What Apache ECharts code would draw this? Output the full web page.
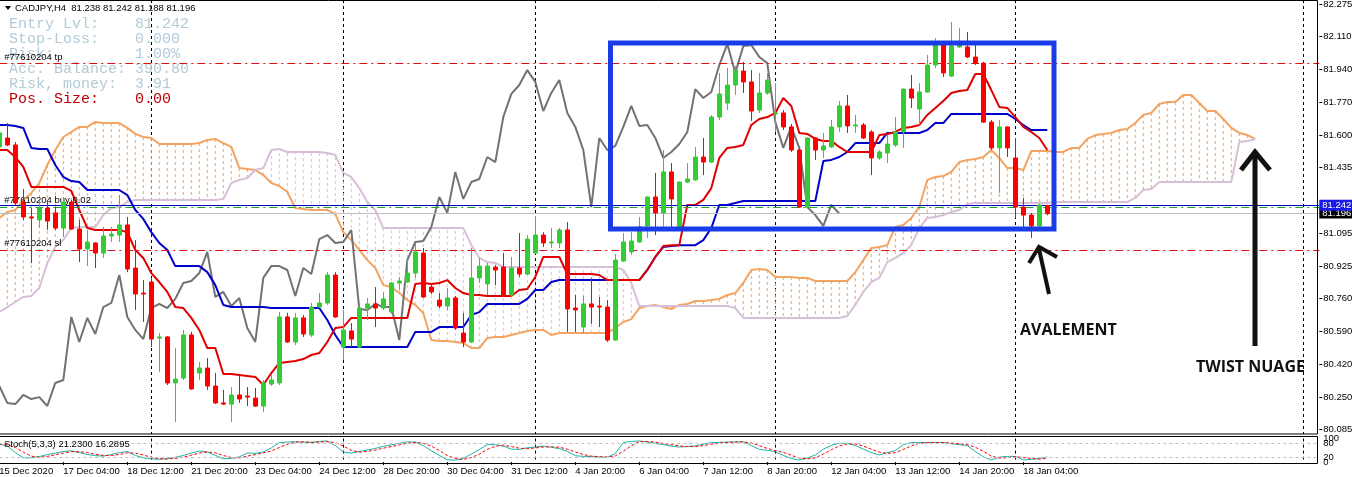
<!DOCTYPE html>
<html><head><meta charset="utf-8">
<script src="https://cdn.jsdelivr.net/npm/echarts@6/dist/echarts.min.js"></script>
<style>html,body{margin:0;padding:0;background:#fff}#c{width:1352px;height:477px}</style>
</head><body><div id="c"></div>
<script>
const tickLabels = ["15 Dec 2020","17 Dec 04:00","18 Dec 12:00","21 Dec 20:00","23 Dec 04:00","24 Dec 12:00","28 Dec 20:00","30 Dec 04:00","31 Dec 12:00","4 Jan 20:00","6 Jan 04:00","7 Jan 12:00","8 Jan 20:00","12 Jan 04:00","13 Jan 12:00","14 Jan 20:00","18 Jan 04:00"];
const weekStarts = [19,43,67,97,127,163];
// [open, close, low, high]
const candles = [
[81.540,81.612,81.524,81.638],[81.586,81.550,81.545,81.663],[81.550,81.251,81.241,81.565],[81.256,81.179,81.164,81.323],
[81.179,81.174,80.942,81.225],[81.164,81.225,81.122,81.267],[81.225,81.158,81.112,81.267],[81.200,81.122,81.112,81.230],
[81.122,81.256,81.076,81.282],[81.256,81.117,81.112,81.267],[81.117,81.014,80.947,81.164],[81.014,81.050,80.926,81.112],
[81.045,80.993,80.916,81.050],[80.993,81.081,80.968,81.128],[81.081,81.091,81.050,81.128],[81.086,81.138,81.050,81.292],
[81.138,80.911,80.895,81.179],[80.916,80.782,80.700,81.060],[80.787,80.782,80.638,80.854],[80.844,80.550,80.509,80.865],
[80.555,80.561,80.380,80.581],[80.561,80.324,80.313,80.566],[80.324,80.344,80.123,80.504],[80.349,80.571,80.339,80.597],
[80.571,80.293,80.288,80.587],[80.375,80.401,80.339,80.432],[80.401,80.308,80.288,80.452],[80.308,80.221,80.215,80.375],
[80.221,80.215,80.210,80.288],[80.215,80.262,80.123,80.303],[80.262,80.241,80.221,80.365],[80.257,80.251,80.205,80.303],
[80.246,80.205,80.200,80.298],[80.205,80.324,80.174,80.339],[80.318,80.339,80.308,80.365],[80.324,80.664,80.313,80.690],
[80.664,80.535,80.530,80.685],[80.535,80.659,80.519,80.685],[80.659,80.576,80.561,80.674],[80.571,80.715,80.561,80.736],
[80.715,80.736,80.710,80.787],[80.736,80.880,80.726,80.895],[80.880,80.664,80.659,80.895],[80.509,80.597,80.442,80.700],
[80.592,80.550,80.509,80.633],[80.509,80.710,80.504,80.720],[80.710,80.731,80.648,80.762],[80.731,80.710,80.612,80.818],
[80.710,80.757,80.700,80.793],[80.689,80.839,80.679,80.844],[80.839,80.849,80.803,80.870],[80.844,80.890,80.839,80.957],
[80.890,80.999,80.865,81.045],[80.993,80.767,80.762,81.019],[80.818,80.793,80.782,80.834],[80.751,80.720,80.710,80.787],
[80.720,80.762,80.700,80.813],[80.762,80.607,80.597,80.772],[80.581,80.535,80.509,80.685],[80.535,80.865,80.530,81.019],
[80.865,80.926,80.839,80.968],[80.834,80.926,80.777,80.942],[80.921,80.906,80.828,80.931],[80.921,80.772,80.767,80.993],
[80.777,80.916,80.767,80.973],[80.916,80.885,80.870,81.096],[80.885,81.065,80.880,81.086],[80.993,81.086,80.988,81.184],
[81.086,81.045,81.024,81.101],[81.045,81.050,81.019,81.122],[81.045,81.112,81.019,81.122],[81.112,80.705,80.587,81.153],
[80.710,80.700,80.587,80.777],[80.612,80.731,80.581,80.772],[80.731,80.715,80.628,80.865],[80.720,80.715,80.612,80.767],
[80.715,80.545,80.535,80.751],[80.545,80.957,80.540,80.988],[80.952,81.050,80.947,81.096],[80.999,81.055,80.983,81.101],
[81.050,81.128,81.045,81.179],[81.133,81.282,81.071,81.285],[81.282,81.200,81.086,81.406],[81.200,81.411,81.128,81.524],
[81.411,81.272,81.128,81.457],[81.128,81.359,81.125,81.362],[81.359,81.375,81.354,81.457],[81.370,81.488,81.365,81.540],
[81.488,81.462,81.395,81.586],[81.462,81.694,81.457,81.704],[81.694,81.813,81.679,81.921],[81.766,81.859,81.730,81.947],
[81.859,81.936,81.808,81.957],[81.931,81.875,81.818,81.978],[81.875,81.725,81.674,81.936],[81.730,81.818,81.715,81.921],
[81.818,81.885,81.808,81.921],[81.710,81.715,81.617,81.869],[81.715,81.643,81.627,81.730],[81.643,81.524,81.514,81.658],
[81.524,81.230,81.225,81.535],[81.230,81.586,81.225,81.591],[81.586,81.524,81.473,81.591],[81.524,81.545,81.483,81.612],
[81.540,81.643,81.535,81.679],[81.643,81.751,81.617,81.777],[81.751,81.648,81.612,81.808],[81.648,81.653,81.612,81.705],
[81.653,81.586,81.581,81.663],[81.617,81.483,81.395,81.627],[81.483,81.514,81.473,81.524],[81.509,81.555,81.457,81.601],
[81.550,81.617,81.540,81.694],[81.617,81.838,81.535,81.841],[81.838,81.792,81.741,81.911],[81.735,81.823,81.653,81.869],
[81.823,81.962,81.818,82.014],[81.962,82.070,81.947,82.101],[82.070,81.921,81.900,82.076],[81.905,82.060,81.900,82.184],
[82.055,82.065,82.050,82.153],[82.055,82.003,81.998,82.132],[82.003,81.972,81.962,82.065],[81.972,81.668,81.663,81.978],
[81.668,81.535,81.524,81.679],[81.535,81.643,81.303,81.679],[81.643,81.535,81.488,81.646],[81.483,81.230,81.174,81.586],
[81.230,81.189,81.128,81.277],[81.189,81.133,81.071,81.200],[81.133,81.241,81.128,81.246],[81.238,81.196,81.188,81.242]
];
const tenkan = [
81.524,81.524,81.488,81.437,81.334,81.334,81.334,81.334,81.334,81.313,
81.215,81.122,81.112,81.112,81.112,81.112,81.101,81.009,80.968,80.890,
80.844,80.793,80.715,80.710,80.659,80.597,80.504,80.504,80.370,80.370,
80.365,80.360,80.355,80.313,80.375,80.427,80.432,80.437,80.447,80.468,
80.478,80.535,80.607,80.612,80.659,80.659,80.659,80.659,80.659,80.659,
80.659,80.659,80.834,80.839,80.834,80.839,80.854,80.813,80.787,80.777,
80.777,80.772,80.772,80.772,80.772,80.803,80.808,80.870,80.973,80.973,
80.973,80.885,80.885,80.885,80.885,80.880,80.854,80.854,80.854,80.854,
80.854,80.906,80.973,81.029,81.034,81.034,81.241,81.241,81.267,81.328,
81.483,81.535,81.540,81.550,81.653,81.684,81.694,81.715,81.792,81.751,
81.612,81.607,81.581,81.571,81.571,81.540,81.514,81.514,81.514,81.514,
81.601,81.607,81.617,81.638,81.643,81.653,81.705,81.741,81.777,81.818,
81.828,81.833,81.916,81.916,81.833,81.746,81.741,81.694,81.643,81.617,
81.586,81.524];
const kijun = [
81.653,81.653,81.648,81.638,81.535,81.529,81.529,81.447,81.385,81.364,
81.359,81.318,81.318,81.318,81.318,81.318,81.292,81.215,81.169,81.101,
81.045,81.009,80.926,80.926,80.926,80.926,80.895,80.828,80.726,80.715,
80.715,80.715,80.715,80.715,80.710,80.710,80.710,80.710,80.710,80.710,
80.710,80.648,80.571,80.509,80.509,80.509,80.509,80.509,80.509,80.509,
80.509,80.509,80.587,80.587,80.587,80.612,80.612,80.612,80.612,80.674,
80.689,80.731,80.731,80.731,80.731,80.731,80.757,80.803,80.803,80.844,
80.854,80.854,80.854,80.854,80.854,80.854,80.854,80.854,80.854,80.854,
80.854,80.906,80.973,81.024,81.029,81.034,81.034,81.034,81.060,81.122,
81.241,81.241,81.251,81.261,81.261,81.261,81.261,81.261,81.261,81.261,
81.261,81.261,81.261,81.467,81.473,81.488,81.514,81.560,81.560,81.560,
81.560,81.612,81.612,81.612,81.612,81.612,81.627,81.663,81.663,81.710,
81.710,81.710,81.710,81.710,81.710,81.710,81.710,81.684,81.653,81.627,
81.627,81.627];
const senkouA = [
81.174,81.205,81.215,81.267,81.303,81.354,81.447,81.524,81.591,81.617,
81.643,81.643,81.669,81.663,81.663,81.663,81.638,81.607,81.591,81.586,
81.555,81.555,81.555,81.555,81.555,81.560,81.576,81.581,81.560,81.540,
81.431,81.426,81.421,81.395,81.354,81.339,81.308,81.225,81.220,81.215,
81.215,81.215,81.194,81.101,81.060,81.009,80.957,80.916,80.828,80.818,
80.787,80.751,80.726,80.684,80.545,80.540,80.540,80.535,80.530,80.504,
80.504,80.555,80.561,80.561,80.571,80.581,80.592,80.597,80.597,80.571,
80.581,80.581,80.581,80.581,80.581,80.581,80.581,80.607,80.638,80.653,
80.710,80.720,80.726,80.715,80.705,80.726,80.731,80.746,80.746,80.751,
80.757,80.777,80.787,80.839,80.906,80.911,80.906,80.870,80.870,80.870,
80.865,80.865,80.849,80.849,80.849,80.849,80.849,80.895,80.957,81.019,
81.024,81.034,81.128,81.138,81.174,81.230,81.370,81.385,81.390,81.411,
81.462,81.473,81.478,81.488,81.524,81.483,81.431,81.431,81.421,81.519,
81.519,81.519,81.514,81.514,81.535,81.535,81.581,81.601,81.607,81.612,
81.627,81.632,81.663,81.705,81.715,81.761,81.771,81.771,81.808,81.808,
81.766,81.725,81.725,81.684,81.638,81.612,81.601,81.581];
const senkouB = [
80.689,80.715,80.741,80.767,80.772,80.813,80.942,81.024,81.060,81.122,
81.128,81.128,81.128,81.189,81.225,81.230,81.256,81.267,81.267,81.267,
81.267,81.267,81.267,81.267,81.267,81.267,81.267,81.267,81.272,81.354,
81.370,81.380,81.421,81.431,81.524,81.529,81.514,81.514,81.514,81.514,
81.514,81.509,81.498,81.406,81.385,81.328,81.256,81.215,81.122,81.122,
81.122,81.122,81.122,81.122,81.122,81.122,81.122,81.122,81.122,81.035,
80.968,80.947,80.942,80.921,80.921,80.921,80.921,80.921,80.921,80.921,
80.921,80.921,80.921,80.921,80.921,80.921,80.921,80.921,80.906,80.839,
80.720,80.720,80.720,80.720,80.720,80.720,80.720,80.720,80.720,80.720,
80.720,80.720,80.710,80.659,80.659,80.659,80.659,80.659,80.659,80.659,
80.659,80.659,80.659,80.659,80.659,80.659,80.669,80.726,80.793,80.844,
80.865,80.947,80.968,80.993,81.035,81.122,81.174,81.179,81.189,81.205,
81.215,81.246,81.251,81.251,81.251,81.251,81.251,81.251,81.251,81.251,
81.251,81.251,81.256,81.256,81.256,81.256,81.256,81.256,81.256,81.256,
81.256,81.256,81.277,81.318,81.323,81.359,81.359,81.359,81.359,81.359,
81.359,81.359,81.359,81.359,81.359,81.565,81.570,81.581];
const stochMain = [
76,69,40,18,18,23,32,38,45,48, 40,32,27,25,32,40,45,28,18,13,
12,14,20,28,38,47,43,28,14,15, 22,38,37,43,60,83,85,87,85,83,
88,90,70,43,38,45,51,58,67,73, 80,86,85,70,48,28,9,8,15,34,
53,75,74,68,55,54,61,64,68,63, 57,46,27,24,23,21,20,36,83,88,
90,85,79,74,68,64,66,69,76,83, 84,85,86,87,70,54,50,44,28,15,
8,17,30,55,71,80,80,70,55,40, 30,40,49,74,83,83,83,83,83,78,
74,70,45,22,9,21,24,24,9,11, 15,21.23];
const stochSignal = [
78,74,62,42,25,20,24,31,38,44, 44,40,33,28,28,32,39,38,30,20,
14,13,15,21,29,38,43,39,28,19, 17,25,32,39,47,62,76,85,86,85,
85,87,83,68,50,42,45,51,59,66, 73,80,84,80,68,49,28,15,11,19,
34,54,67,72,66,59,57,60,64,65, 63,55,43,32,25,23,21,26,46,69,
87,88,85,79,74,69,66,66,70,76, 81,84,85,86,81,70,58,49,41,29,
17,13,18,34,52,69,77,77,68,55, 42,37,40,54,69,80,83,83,83,81,
78,74,63,46,25,17,18,23,19,15, 12,16.29];
const priceTicks = [82.275,82.110,81.940,81.770,81.600,81.435,81.095,80.925,80.760,80.590,80.420,80.250,80.085];
const stochTicksOuter = [0,100];
const stochTicksInner = [20,80];
const levelTP = 81.971, levelSL = 81.013, levelEntry = 81.242, levelOrder = 81.232, levelBid = 81.196;
const barCount = 166;
const chikouShift = 26;

const cats = []; for (let i = 0; i < barCount; i++) cats.push(i);
const pad = arr => cats.map(i => i < arr.length ? arr[i] : '-');
const closes = candles.map(c => c[1]);
const chikou = cats.map(i => (i + chikouShift) < closes.length ? closes[i + chikouShift] : '-');
const hatch = senkouA.map((a, i) => [i, a, senkouB[i]]);
const labelIdx = i => i % 8 === 0 && (i / 8) < tickLabels.length;
const FONT = 'Liberation Sans';
const splitWeek = {show: true, interval: (i) => weekStarts.indexOf(i) >= 0, lineStyle: {color: '#000', type: [3, 3], width: 1}};

const chart = echarts.init(document.getElementById('c'), null, {renderer: 'canvas'});
const lineS = (data, color, width, z, extra) => Object.assign({
  type: 'line', data: pad(data), xAxisIndex: 0, yAxisIndex: 0, symbol: 'none', showSymbol: false,
  lineStyle: {color: color, width: width}, z: z, silent: true, animation: false, connectNulls: false
}, extra || {});

const monoStyle = (txt, y, color) => ({type: 'text', x: 9, y: y, z: 1, silent: true,
  style: {text: txt, font: '15px "Liberation Mono"', fill: color, textVerticalAlign: 'middle'}});
const light = '#b2cbd6';
const stochAxis = (vals) => ({type: 'value', gridIndex: 1, position: 'right', min: 0, max: 100,
  axisLine: {show: false}, splitLine: {show: false}, axisTick: {show: false},
  axisLabel: {show: true, customValues: vals, margin: 4, color: '#000', fontFamily: FONT, fontSize: 9.5,
    hideOverlap: false, showMinLabel: true, showMaxLabel: true, formatter: v => String(v)}});
const levelLine = (value, color, dash, label) => ({
  type: 'line', xAxisIndex: 0, yAxisIndex: 0, data: pad([]), symbol: 'none', z: 6, silent: true,
  markLine: {silent: true, symbol: ['none', 'none'], animation: false,
    lineStyle: {color: color, type: dash, width: 1, opacity: 1},
    label: label,
    data: [{yAxis: value}]}
});

chart.setOption({
  animation: false,
  backgroundColor: '#fff',
  grid: [
    {left: -0.7, top: 0, width: 1320, height: 434, outerBoundsMode: 'none', containLabel: false},
    {left: -0.7, top: 438.6, width: 1320, height: 23.4, outerBoundsMode: 'none', containLabel: false}
  ],
  xAxis: [
    {type: 'category', gridIndex: 0, data: cats, boundaryGap: false,
     axisLine: {show: false}, axisTick: {show: false}, axisLabel: {show: false}, splitLine: splitWeek},
    {type: 'category', gridIndex: 1, data: cats, boundaryGap: false,
     axisLine: {show: false},
     axisTick: {show: true, interval: labelIdx, length: 3, lineStyle: {color: '#000'}},
     axisLabel: {show: true, interval: labelIdx, align: 'left', margin: 4, color: '#000', fontFamily: FONT, fontSize: 9.5,
       formatter: (v, i) => tickLabels[Math.round(Number(v) / 8)] || ''},
     splitLine: splitWeek}
  ],
  yAxis: [
    {type: 'value', gridIndex: 0, position: 'right', min: 80.0609, max: 82.297, scale: true,
     axisLine: {show: false}, splitLine: {show: false},
     axisTick: {show: true, customValues: priceTicks, length: 3, lineStyle: {color: '#000'}},
     axisLabel: {show: true, customValues: priceTicks, margin: 4, color: '#000', fontFamily: FONT, fontSize: 9.5,
       hideOverlap: false, formatter: v => Number(v).toFixed(3)}},
    stochAxis(stochTicksOuter),
    stochAxis(stochTicksInner)
  ],
  series: [
    {type: 'custom', xAxisIndex: 0, yAxisIndex: 0, data: hatch, z: 1, silent: true, clip: true,
     encode: {x: 0, y: [1, 2]},
     renderItem: (params, api) => {
       const k = api.value(0), a = api.value(1), b = api.value(2);
       const p1 = api.coord([k, a]), p2 = api.coord([k, b]);
       return {type: 'line', shape: {x1: p1[0], y1: p1[1], x2: p2[0], y2: p2[1]},
         style: {stroke: a >= b ? '#f4a460' : '#d8bfd8', lineWidth: 1, lineDash: [3, 3]}};
     }},
    lineS(senkouA, '#f4a460', 2, 2),
    lineS(senkouB, '#d8bfd8', 2, 2),
    lineS(chikou, '#727272', 2, 3),
    lineS(kijun, '#0000cd', 2, 4),
    lineS(tenkan, '#e00000', 2, 4),
    {type: 'candlestick', xAxisIndex: 0, yAxisIndex: 0, data: candles, barWidth: 5, z: 5, silent: true,
     itemStyle: {color: '#32cd32', color0: '#ff0000', borderColor: '#32cd32', borderColor0: '#ff0000', borderWidth: 1}},
    levelLine(levelTP, '#e01010', [8, 4, 2, 4],
      {show: true, position: 'insideStartTop', distance: [5, 1], formatter: '#77610204 tp', color: '#000', fontFamily: FONT, fontSize: 9.5}),
    levelLine(levelSL, '#e01010', [8, 4, 2, 4],
      {show: true, position: 'insideStartTop', distance: [5, 1], formatter: '#77610204 sl', color: '#000', fontFamily: FONT, fontSize: 9.5}),
    levelLine(levelBid, '#c0c0c0', 'solid',
      {show: true, position: 'end', distance: 0, formatter: '81.196', color: '#fff', backgroundColor: '#000', padding: [1, 3, 0, 3], fontFamily: FONT, fontSize: 9.5}),
    levelLine(levelOrder, '#1fa81f', [8, 4, 2, 4],
      {show: true, position: 'insideStartTop', distance: [5, 2], formatter: '#77610204 buy 0.02', color: '#000', fontFamily: FONT, fontSize: 9.5}),
    levelLine(levelEntry, '#0000c0', 'solid',
      {show: true, position: 'end', distance: 0, formatter: '81.242', color: '#fff', backgroundColor: '#1a1ae6', padding: [1, 3, 0, 3], fontFamily: FONT, fontSize: 9.5}),
    {type: 'line', xAxisIndex: 1, yAxisIndex: 1, data: pad(stochMain), symbol: 'none', z: 3, silent: true,
     lineStyle: {color: '#20b2aa', width: 1},
     markLine: {silent: true, symbol: ['none', 'none'], animation: false, label: {show: false},
       lineStyle: {color: '#c0c0c0', type: [3, 3], width: 1},
       data: [{yAxis: 80}, {yAxis: 20}]}},
    {type: 'line', xAxisIndex: 1, yAxisIndex: 1, data: pad(stochSignal), symbol: 'none', z: 3, silent: true,
     lineStyle: {color: '#ff0000', width: 1, type: [3, 2]}}
  ],
  graphic: [
    {type: 'rect', z: 50, silent: true, shape: {x: -1, y: 0.5, width: 1318.5, height: 433.5}, style: {fill: 'none', stroke: '#000', lineWidth: 1}},
    {type: 'rect', z: 50, silent: true, shape: {x: -1, y: 436.5, width: 1318.5, height: 27}, style: {fill: 'none', stroke: '#000', lineWidth: 1}},
    {type: 'polygon', z: 60, silent: true, shape: {points: [[5, 6], [11, 6], [8, 10]]}, style: {fill: '#000'}},
    {type: 'text', z: 60, silent: true, x: 15, y: 8, style: {text: 'CADJPY,H4  81.238 81.242 81.188 81.196', font: '9.5px "Liberation Sans"', fill: '#000', textVerticalAlign: 'middle'}},
    monoStyle('Entry Lvl:    81.242', 24, light),
    monoStyle('Stop-Loss:    0.000', 39, light),
    monoStyle('Risk:         1.00%', 54, light),
    monoStyle('Acc. Balance: 390.80', 69.5, light),
    monoStyle('Risk, money:  3.91', 84.5, light),
    monoStyle('Pos. Size:    0.00', 99, '#c00000'),
    {type: 'text', z: 60, silent: true, x: 4, y: 444, style: {text: 'Stoch(5,3,3) 21.2300 16.2895', font: '9.5px "Liberation Sans"', fill: '#000', textVerticalAlign: 'middle'}},
    {type: 'rect', z: 70, silent: true, shape: {x: 610.5, y: 43, width: 443.5, height: 186}, style: {fill: 'none', stroke: '#1a3ce8', lineWidth: 5}},
    {type: 'polyline', z: 70, silent: true, shape: {points: [[1029, 263], [1039, 247], [1057, 257]]}, style: {stroke: '#111', lineWidth: 4, fill: 'none'}},
    {type: 'line', z: 70, silent: true, shape: {x1: 1039, y1: 249, x2: 1049, y2: 294}, style: {stroke: '#111', lineWidth: 4}},
    {type: 'polyline', z: 70, silent: true, shape: {points: [[1241, 170], [1255, 152], [1270, 170]]}, style: {stroke: '#111', lineWidth: 5, fill: 'none'}},
    {type: 'line', z: 70, silent: true, shape: {x1: 1255, y1: 154, x2: 1255, y2: 346}, style: {stroke: '#111', lineWidth: 5}},
    {type: 'text', z: 70, silent: true, x: 1020, y: 330, style: {text: 'AVALEMENT', font: 'bold 16px "Open Sans"', fill: '#111', textVerticalAlign: 'middle'}},
    {type: 'text', z: 70, silent: true, x: 1196, y: 367, style: {text: 'TWIST NUAGE', font: 'bold 16px "Open Sans"', fill: '#111', textVerticalAlign: 'middle'}}
  ]
});
</script></body></html>
